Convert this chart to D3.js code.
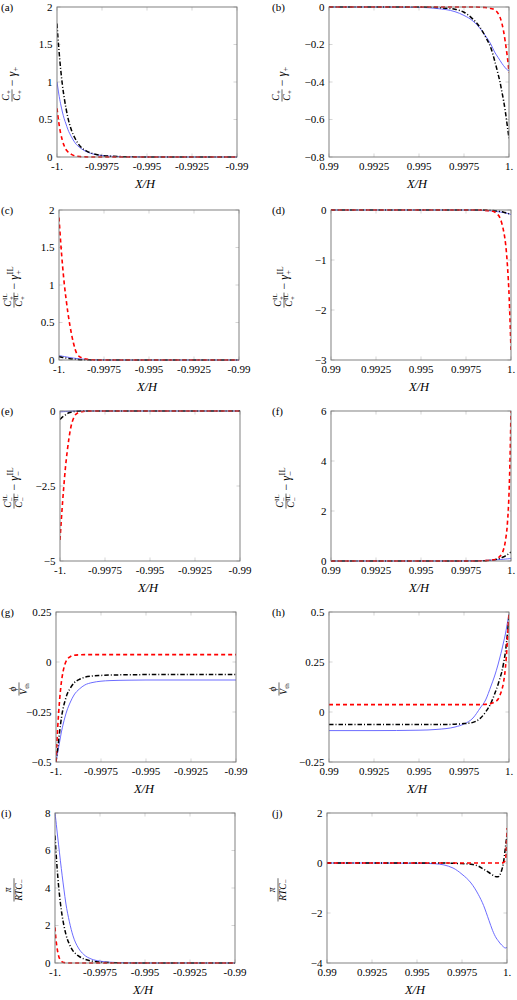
<!DOCTYPE html>
<html><head><meta charset="utf-8">
<script src="https://cdn.jsdelivr.net/npm/d3@7"></script>
<style>body{margin:0;background:#fff}svg{display:block}</style>
</head><body>
<script>
// ---------- data ----------
const xLeft  = [-1, -0.99995, -0.9999, -0.9998, -0.9997, -0.9996, -0.9995, -0.9994, -0.9992, -0.999, -0.9987, -0.9984, -0.998, -0.9975, -0.997, -0.996, -0.995, -0.9925, -0.99];
const xRight = [0.99, 0.9925, 0.995, 0.996, 0.997, 0.9975, 0.998, 0.9984, 0.9987, 0.999, 0.9992, 0.9994, 0.9995, 0.9996, 0.9997, 0.9998, 0.9999, 0.99995, 1];
const xTicksLeft = [-1, -0.9975, -0.995, -0.9925, -0.99];
const xTickLabelsLeft = ["-1.", "-0.9975", "-0.995", "-0.9925", "-0.99"];
const xTicksRight = [0.99, 0.9925, 0.995, 0.9975, 1];
const xTickLabelsRight = ["0.99", "0.9925", "0.995", "0.9975", "1."];

// (a)
const aBlue  = [1.00, 0.92, 0.84, 0.71, 0.60, 0.51, 0.44, 0.37, 0.27, 0.19, 0.12, 0.075, 0.04, 0.02, 0.01, 0.003, 0.001, 0, 0];
const aBlack = [1.78, 1.60, 1.45, 1.18, 0.96, 0.79, 0.65, 0.53, 0.36, 0.25, 0.14, 0.085, 0.045, 0.02, 0.01, 0.003, 0.001, 0, 0];
const aRed   = [0.65, 0.55, 0.46, 0.32, 0.22, 0.15, 0.10, 0.07, 0.035, 0.015, 0.005, 0.002, 0, 0, 0, 0, 0, 0, 0];
const aYTicks = [0, 0.5, 1, 1.5, 2];
// (b)
const bBlue  = [0, 0, -0.002, -0.008, -0.025, -0.045, -0.075, -0.115, -0.155, -0.20, -0.24, -0.27, -0.285, -0.30, -0.313, -0.325, -0.335, -0.338, -0.34];
const bBlack = [0, 0, 0, -0.003, -0.012, -0.028, -0.065, -0.11, -0.16, -0.22, -0.285, -0.36, -0.40, -0.45, -0.50, -0.56, -0.63, -0.665, -0.70];
const bRed   = [0, 0, 0, 0, 0, 0, 0, -0.001, -0.003, -0.008, -0.015, -0.035, -0.055, -0.085, -0.13, -0.19, -0.26, -0.30, -0.35];
const bYTicks = [-0.8, -0.6, -0.4, -0.2, 0];
// (c)
const cBlue  = [0.06, 0.058, 0.055, 0.05, 0.046, 0.042, 0.037, 0.033, 0.026, 0.019, 0.012, 0.007, 0.003, 0.001, 0, 0, 0, 0, 0];
const cBlack = [0.045, 0.042, 0.039, 0.034, 0.03, 0.026, 0.022, 0.018, 0.012, 0.008, 0.004, 0.002, 0.001, 0, 0, 0, 0, 0, 0];
const cRed   = [1.90, 1.72, 1.55, 1.25, 1.00, 0.80, 0.62, 0.47, 0.23, 0.08, 0.025, 0.008, 0.002, 0, 0, 0, 0, 0, 0];
const cYTicks = [0, 0.5, 1, 1.5, 2];
// (d)
const dBlue  = [0, 0, 0, 0, 0, 0, -0.002, -0.008, -0.014, -0.02, -0.03, -0.04, -0.046, -0.052, -0.06, -0.068, -0.078, -0.084, -0.09];
const dBlack = [0, 0, 0, 0, 0, 0, 0, -0.002, -0.005, -0.01, -0.018, -0.03, -0.037, -0.045, -0.055, -0.065, -0.077, -0.083, -0.09];
const dRed   = [0, 0, 0, 0, 0, 0, 0, -0.003, -0.012, -0.027, -0.07, -0.17, -0.28, -0.44, -0.68, -1.1, -1.76, -2.25, -2.8];
const dYTicks = [-3, -2, -1, 0];
// (e)
const eBlue  = [-0.03, -0.028, -0.026, -0.022, -0.018, -0.014, -0.01, -0.008, -0.004, -0.002, 0, 0, 0, 0, 0, 0, 0, 0, 0];
const eBlack = [-0.28, -0.25, -0.22, -0.17, -0.13, -0.09, -0.06, -0.04, -0.015, -0.005, -0.001, 0, 0, 0, 0, 0, 0, 0, 0];
const eRed   = [-4.3, -3.85, -3.4, -2.6, -1.9, -1.35, -0.9, -0.55, -0.18, -0.06, -0.015, -0.005, 0, 0, 0, 0, 0, 0, 0];
const eYTicks = [-5, -2.5, 0];
// (f)
const fBlue  = [0, 0, 0, 0, 0.002, 0.005, 0.01, 0.018, 0.027, 0.04, 0.05, 0.06, 0.065, 0.07, 0.078, 0.085, 0.093, 0.097, 0.1];
const fBlack = [0, 0, 0, 0, 0, 0, 0.002, 0.008, 0.02, 0.04, 0.07, 0.11, 0.14, 0.17, 0.21, 0.25, 0.3, 0.33, 0.35];
const fRed   = [0, 0, 0, 0, 0, 0, 0, 0.008, 0.02, 0.04, 0.09, 0.2, 0.3, 0.5, 0.85, 1.5, 2.9, 4.2, 6.0];
const fYTicks = [0, 2, 4, 6];
// (g)
const gBlue  = [-0.5, -0.475, -0.45, -0.40, -0.35, -0.31, -0.275, -0.245, -0.2, -0.165, -0.135, -0.115, -0.103, -0.096, -0.093, -0.091, -0.09, -0.09, -0.09];
const gBlack = [-0.5, -0.465, -0.43, -0.35, -0.28, -0.23, -0.195, -0.165, -0.13, -0.105, -0.087, -0.076, -0.07, -0.067, -0.065, -0.064, -0.063, -0.063, -0.063];
const gRed   = [-0.5, -0.40, -0.32, -0.19, -0.10, -0.045, -0.01, 0.01, 0.027, 0.034, 0.036, 0.037, 0.037, 0.037, 0.037, 0.037, 0.037, 0.037, 0.037];
const gYTicks = [-0.5, -0.25, 0, 0.25];
// (h)
const hBlue  = [-0.093, -0.093, -0.091, -0.087, -0.075, -0.06, -0.03, 0.02, 0.06, 0.13, 0.18, 0.24, 0.275, 0.31, 0.35, 0.39, 0.44, 0.465, 0.49];
const hBlack = [-0.063, -0.063, -0.063, -0.063, -0.061, -0.058, -0.052, -0.032, 0.0, 0.045, 0.09, 0.14, 0.17, 0.2, 0.245, 0.3, 0.38, 0.43, 0.48];
const hRed   = [0.037, 0.037, 0.037, 0.037, 0.037, 0.037, 0.037, 0.037, 0.038, 0.042, 0.05, 0.065, 0.085, 0.11, 0.15, 0.22, 0.34, 0.42, 0.5];
const hYTicks = [-0.25, 0, 0.25, 0.5];
// (i)
const iBlue  = [8.0, 7.6, 7.15, 6.3, 5.45, 4.65, 3.9, 3.2, 2.2, 1.45, 0.8, 0.45, 0.22, 0.1, 0.045, 0.01, 0, 0, 0];
const iBlack = [6.8, 6.0, 5.3, 4.1, 3.2, 2.5, 1.98, 1.55, 1.0, 0.65, 0.38, 0.22, 0.11, 0.05, 0.02, 0.003, 0, 0, 0];
const iRed   = [1.9, 1.3, 0.9, 0.38, 0.15, 0.06, 0.025, 0.01, 0, 0, 0, 0, 0, 0, 0, 0, 0, 0, 0];
const iYTicks = [0, 2, 4, 6, 8];
// (j)
const jBlue  = [0, 0, -0.01, -0.03, -0.2, -0.45, -0.8, -1.25, -1.7, -2.3, -2.7, -3.0, -3.1, -3.2, -3.28, -3.35, -3.4, -3.39, -3.38];
const jBlack = [0, 0, 0, 0, -0.01, -0.025, -0.05, -0.12, -0.25, -0.38, -0.48, -0.55, -0.55, -0.48, -0.3, 0.0, 0.55, 0.85, 1.1];
const jRed   = [0, 0, 0, 0, 0, 0, 0, 0, 0, 0, 0, 0, 0, 0, 0, 0.02, 0.1, 0.35, 1.4];
const jYTicks = [-4, -2, 0, 2];

// ---------- y labels (math) ----------
const C = (sup, sub) => ({b: "C", sup, sub});
const labA = {num: [C(null, "+")], den: [C(null, "+")], rest: [{b: "γ", sub: "+"}]};
const labC = {num: [C("IL", "+")], den: [C("IL", "+")], rest: [{b: "γ", sup: "IL", sub: "+"}]};
const labE = {num: [C("IL", "−")], den: [C("IL", "−")], rest: [{b: "γ", sup: "IL", sub: "−"}]};
const labG = {num: [{b: "ϕ"}], den: [{b: "V", sub: "th"}], rest: null};
const labI = {num: [{b: "π"}], den: [{b: "RTC", sub: "−"}], rest: null};

// ---------- panels ----------
const panels = [
  {id: "(a)", side: "L", L: 57,  T: 7,   dom: [0, 2],      yt: aYTicks, s: [aBlue, aBlack, aRed], lab: labA, lx: 12},
  {id: "(b)", side: "R", L: 329, T: 7,   dom: [-0.8, 0],   yt: bYTicks, s: [bBlue, bBlack, bRed], lab: labA, lx: 282},
  {id: "(c)", side: "L", L: 59,  T: 210, dom: [0, 2],      yt: cYTicks, s: [cBlue, cBlack, cRed], lab: labC, lx: 14},
  {id: "(d)", side: "R", L: 331, T: 210, dom: [-3, 0],     yt: dYTicks, s: [dBlue, dBlack, dRed], lab: labC, lx: 284},
  {id: "(e)", side: "L", L: 60,  T: 411, dom: [-5, 0],     yt: eYTicks, s: [eBlue, eBlack, eRed], lab: labE, lx: 14},
  {id: "(f)", side: "R", L: 331, T: 411, dom: [0, 6],      yt: fYTicks, s: [fBlue, fBlack, fRed], lab: labE, lx: 286},
  {id: "(g)", side: "L", L: 56,  T: 612, dom: [-0.5, 0.25], yt: gYTicks, s: [gBlue, gBlack, gRed], lab: labG, lx: 19},
  {id: "(h)", side: "R", L: 329, T: 612, dom: [-0.25, 0.5], yt: hYTicks, s: [hBlue, hBlack, hRed], lab: labG, lx: 279},
  {id: "(i)", side: "L", L: 55,  T: 813, dom: [0, 8],      yt: iYTicks, s: [iBlue, iBlack, iRed], lab: labI, lx: 14},
  {id: "(j)", side: "R", L: 327, T: 813, dom: [-4, 2],     yt: jYTicks, s: [jBlue, jBlack, jRed], lab: labI, lx: 278}
];

const PW = 180, PH = 150;
const FONT = "'Liberation Serif','DejaVu Serif',serif";
const styles = [
  {stroke: "#5b5bff", width: 0.9, dash: null},
  {stroke: "#000", width: 1.5, dash: "4.5,2,1,2"},
  {stroke: "#ff0000", width: 1.6, dash: "4,3"}
];
const fmtY = v => (v < 0 ? "−" : "") + String(Math.abs(v));

const svg = d3.select("body").append("svg").attr("width", 517).attr("height", 1000)
  .style("font-family", FONT);

function atom(g, a, x, y, size, sSize) {
  const t = g.append("text").attr("x", x).attr("y", y).attr("font-size", size)
    .attr("font-style", "italic").text(a.b);
  const w = t.node().getComputedTextLength();
  let ws = 0;
  if (a.sup) {
    const s = g.append("text").attr("x", x + w + 0.6).attr("y", y - size * 0.38)
      .attr("font-size", sSize).text(a.sup);
    ws = Math.max(ws, s.node().getComputedTextLength() + 0.6);
  }
  if (a.sub) {
    const s = g.append("text").attr("x", x + w + 0.4).attr("y", y + size * (a.sup ? 0.3 : 0.2))
      .attr("font-size", sSize).text(a.sub);
    ws = Math.max(ws, s.node().getComputedTextLength() + 0.4);
  }
  return w + ws;
}
function row(g, atoms, size, sSize) {
  let x = 0;
  atoms.forEach(a => { x += atom(g, a, x, 0, size, sSize); });
  return x;
}
function drawLabel(lab, cx, cy) {
  const outer = svg.append("g").attr("transform", `translate(${cx},${cy}) rotate(-90)`);
  const g = outer.append("g");
  const ng = g.append("g"), dg = g.append("g");
  const nw = row(ng, lab.num, 9.5, 7), dw = row(dg, lab.den, 9.5, 7);
  const fw = Math.max(nw, dw) + 1.5;
  ng.attr("transform", `translate(${(fw - nw) / 2},-2.9)`);
  dg.attr("transform", `translate(${(fw - dw) / 2},7.8)`);
  g.append("line").attr("x1", 0).attr("x2", fw).attr("y1", 0).attr("y2", 0)
    .attr("stroke", "#000").attr("stroke-width", 0.6);
  if (lab.rest) {
    const m = g.append("text").attr("x", fw + 3).attr("y", 3.8).attr("font-size", 12).text("−");
    const mw = m.node().getComputedTextLength();
    const rg = g.append("g").attr("transform", `translate(${fw + 3 + mw + 3},3.8)`);
    row(rg, lab.rest, 12, 8.5);
  }
  const bb = g.node().getBBox();
  g.attr("transform", `translate(${-(bb.x + bb.width / 2)},0)`);
}

panels.forEach((p, pi) => {
  const xd = p.side === "L" ? [-1, -0.99] : [0.99, 1];
  const xs = p.side === "L" ? xLeft : xRight;
  const xt = p.side === "L" ? xTicksLeft : xTicksRight;
  const xtl = p.side === "L" ? xTickLabelsLeft : xTickLabelsRight;
  const x = d3.scaleLinear().domain(xd).range([p.L, p.L + PW]);
  const y = d3.scaleLinear().domain(p.dom).range([p.T + PH, p.T]);
  const B = p.T + PH, R = p.L + PW;

  // ticks (inside, both sides)
  const tk = svg.append("g").attr("stroke", "#b8b8b8").attr("stroke-width", 0.6);
  xt.forEach(v => {
    tk.append("line").attr("x1", x(v)).attr("x2", x(v)).attr("y1", B).attr("y2", B - 3.5);
    tk.append("line").attr("x1", x(v)).attr("x2", x(v)).attr("y1", p.T).attr("y2", p.T + 3.5);
  });
  p.yt.forEach(v => {
    tk.append("line").attr("x1", p.L).attr("x2", p.L + 3.5).attr("y1", y(v)).attr("y2", y(v));
    tk.append("line").attr("x1", R).attr("x2", R - 3.5).attr("y1", y(v)).attr("y2", y(v));
  });

  // clip
  const cid = "clip" + pi;
  svg.append("clipPath").attr("id", cid).append("rect")
    .attr("x", p.L).attr("y", p.T - 1).attr("width", PW).attr("height", PH + 2);
  const lg = svg.append("g").attr("clip-path", `url(#${cid})`);
  const line = d3.line().x((d, i) => x(xs[i])).y(d => y(d)).curve(d3.curveMonotoneX);
  p.s.forEach((ser, si) => {
    const st = styles[si];
    lg.append("path").attr("d", line(ser)).attr("fill", "none")
      .attr("stroke", st.stroke).attr("stroke-width", st.width)
      .attr("stroke-dasharray", st.dash).attr("stroke-linejoin", "round");
  });

  // frame
  svg.append("rect").attr("x", p.L).attr("y", p.T).attr("width", PW).attr("height", PH)
    .attr("fill", "none").attr("stroke", "#737373").attr("stroke-width", 0.9);

  // x tick labels
  const xa = svg.append("g").attr("font-size", 11).attr("text-anchor", "middle");
  xt.forEach((v, i) => xa.append("text").attr("x", x(v)).attr("y", B + 12.5).text(xtl[i]));
  // y tick labels
  const ya = svg.append("g").attr("font-size", 11).attr("text-anchor", "end");
  p.yt.forEach(v => ya.append("text").attr("x", p.L - 4.5).attr("y", y(v) + 3.8).text(fmtY(v)));

  // x label
  svg.append("text").attr("x", p.L + PW / 2 - 2).attr("y", B + 31).attr("font-size", 12.5)
    .attr("text-anchor", "middle").attr("font-style", "italic").text("X/H");

  // panel id
  svg.append("text").attr("x", p.side === "L" ? 1 : 272).attr("y", p.T + 4).attr("font-size", 11).text(p.id);

  // y label
  drawLabel(p.lab, p.lx, p.T + PH / 2 + 2);
});
</script>
</body></html>
